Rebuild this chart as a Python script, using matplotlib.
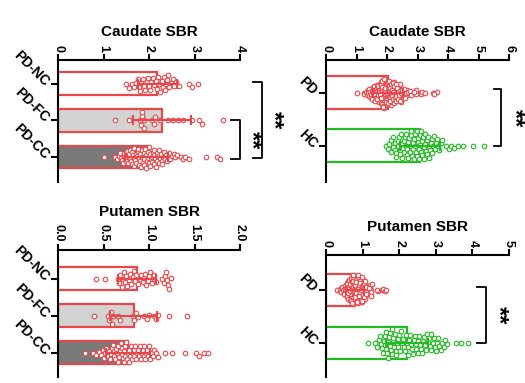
import matplotlib
matplotlib.use("Agg")
import matplotlib.pyplot as plt
import numpy as np

plt.rcParams['font.family'] = ['Liberation Sans', 'DejaVu Sans']
plt.rcParams['font.weight'] = 'bold'

RED = "#E8484B"
GREEN = "#22BB22"

# caudate SBR, individual subjects
caud_nc = [1.50, 1.55, 1.62, 1.68, 1.72, 1.75, 1.78, 1.80, 1.83, 1.86, 1.90, 1.92, 1.95, 1.98,
           2.00, 2.03, 2.05, 2.08, 2.12, 2.15, 2.18, 2.20, 2.22, 2.25, 2.28, 2.30, 2.32, 2.35,
           2.38, 2.40, 2.42, 2.45, 2.48, 2.52, 2.55, 2.60, 2.65, 2.88, 2.95, 3.08]
caud_fc = [1.25, 1.56, 1.80, 1.82, 1.84, 1.85, 1.88, 1.90, 2.06, 2.10, 2.13, 2.24, 2.42, 2.53,
           2.64, 2.75, 2.94, 3.10, 3.16, 3.63]
caud_cc = [1.01, 1.25, 1.30, 1.33, 1.36, 1.38, 1.40, 1.42, 1.44, 1.46, 1.48, 1.50, 1.51, 1.53,
           1.55, 1.56, 1.58, 1.59, 1.60, 1.62, 1.63, 1.64, 1.66, 1.67, 1.68, 1.70, 1.71, 1.72,
           1.74, 1.75, 1.76, 1.78, 1.79, 1.80, 1.81, 1.83, 1.84, 1.85, 1.87, 1.88, 1.89, 1.90,
           1.92, 1.93, 1.94, 1.95, 1.97, 1.98, 1.99, 2.00, 2.02, 2.03, 2.04, 2.06, 2.07, 2.08,
           2.10, 2.11, 2.12, 2.14, 2.15, 2.17, 2.18, 2.20, 2.21, 2.23, 2.24, 2.26, 2.28, 2.29,
           2.31, 2.33, 2.35, 2.37, 2.39, 2.41, 2.43, 2.46, 2.50, 2.54, 2.58, 2.62, 2.70, 2.75,
           2.80, 2.88, 3.25, 3.50, 3.55]
caud_hc = [1.96, 2.03, 2.08, 2.12, 2.12, 2.18, 2.21, 2.25, 2.27, 2.30, 2.31, 2.35, 2.37, 2.40,
           2.41, 2.44, 2.46, 2.48, 2.50, 2.52, 2.55, 2.56, 2.58, 2.61, 2.63, 2.64, 2.67, 2.69,
           2.70, 2.72, 2.75, 2.77, 2.78, 2.80, 2.82, 2.85, 2.86, 2.88, 2.90, 2.91, 2.93, 2.95,
           2.97, 2.99, 3.00, 3.02, 3.04, 3.05, 3.07, 3.09, 3.11, 3.12, 3.14, 3.16, 3.18, 3.20,
           3.21, 3.23, 3.25, 3.27, 3.30, 3.32, 3.34, 3.37, 3.39, 3.41, 3.44, 3.46, 3.49, 3.52,
           3.55, 3.58, 3.61, 3.65, 3.68, 3.72, 3.76, 3.80, 3.92, 4.02, 4.10, 4.21, 4.33, 4.49,
           4.82, 5.18]

# putamen SBR, individual subjects
put_nc = [0.42, 0.52, 0.66, 0.67, 0.68, 0.70, 0.71, 0.72, 0.74, 0.75, 0.76, 0.78, 0.79, 0.80,
          0.82, 0.83, 0.85, 0.86, 0.88, 0.90, 0.91, 0.93, 0.95, 0.96, 0.97, 0.99, 1.00, 1.01,
          1.03, 1.05, 1.06, 1.08, 1.14, 1.16, 1.18, 1.19, 1.20, 1.21, 1.22, 1.24]
put_fc = [0.39, 0.55, 0.56, 0.58, 0.59, 0.60, 0.66, 0.68, 0.82, 0.84, 0.86, 0.88, 0.95, 0.98,
          1.00, 1.05, 1.08, 1.10, 1.22, 1.42]
put_cc = [0.30, 0.38, 0.42, 0.45, 0.47, 0.49, 0.50, 0.52, 0.53, 0.54, 0.56, 0.57, 0.58, 0.59,
          0.60, 0.61, 0.62, 0.63, 0.64, 0.65, 0.66, 0.66, 0.67, 0.68, 0.69, 0.70, 0.70, 0.71,
          0.72, 0.73, 0.74, 0.74, 0.75, 0.76, 0.77, 0.78, 0.78, 0.79, 0.80, 0.81, 0.82, 0.83,
          0.84, 0.85, 0.86, 0.87, 0.88, 0.89, 0.90, 0.91, 0.92, 0.93, 0.94, 0.95, 0.96, 0.97,
          0.98, 0.99, 1.00, 1.01, 1.03, 1.04, 1.06, 1.08, 1.10, 1.18, 1.25, 1.40, 1.52, 1.55,
          1.60, 1.65]
put_hc = [1.16, 1.35, 1.40, 1.44, 1.48, 1.50, 1.53, 1.55, 1.58, 1.60, 1.62, 1.63, 1.65, 1.67,
          1.68, 1.70, 1.72, 1.74, 1.75, 1.77, 1.79, 1.80, 1.82, 1.84, 1.86, 1.88, 1.90, 1.92,
          1.94, 1.96, 1.98, 2.00, 2.02, 2.05, 2.07, 2.10, 2.12, 2.15, 2.18, 2.20, 2.23, 2.25,
          2.28, 2.30, 2.33, 2.35, 2.38, 2.40, 2.42, 2.45, 2.47, 2.50, 2.52, 2.55, 2.57, 2.60,
          2.62, 2.65, 2.67, 2.70, 2.72, 2.75, 2.78, 2.80, 2.83, 2.86, 2.88, 2.91, 2.94, 2.97,
          3.00, 3.03, 3.06, 3.10, 3.14, 3.18, 3.22, 3.26, 3.30, 3.55, 3.70, 3.88]

# group means and SD
sub_labels = ["PD-NC", "PD-FC", "PD-CC"]
caud_sub_mean = [2.18, 2.29, 1.95]
caud_sub_sd = [0.43, 0.64, 0.47]
put_sub_mean = [0.87, 0.83, 0.77]
put_sub_sd = [0.21, 0.26, 0.24]

grp_labels = ["PD", "HC"]
caud_grp_mean = [2.03, 3.07]
caud_grp_sd = [0.48, 0.66]
put_grp_mean = [0.79, 2.22]
put_grp_sd = [0.25, 0.57]

W, H = 525, 383
fig = plt.figure(figsize=(W / 100, H / 100), dpi=100)


def swarm(vals, xpx, d):
    # simple beeswarm, offsets in pixels
    xs = np.asarray(vals) * xpx
    placed = []
    offs = np.zeros(len(xs))
    for i in np.argsort(xs):
        x = xs[i]
        near = [(px, py) for px, py in placed if abs(px - x) < d]
        cands = [0.0]
        for px, py in near:
            dy = np.sqrt(d * d - (px - x) ** 2)
            cands += [py + dy, py - dy]
        cands = sorted(cands, key=abs)
        for c in cands:
            if all((px - x) ** 2 + (py - c) ** 2 >= d * d - 1e-6 for px, py in near):
                offs[i] = c
                placed.append((x, c))
                break
    return offs


def panel(rect, title, xmax, xticks, ticklabels, ylim, labels, groups, means, sds,
          colors, fills):
    ax = fig.add_axes(rect)
    ax.set_xlim(0, xmax)
    ax.set_ylim(ylim)
    xpx = rect[2] * W / xmax
    ypx = rect[3] * H / (ylim[0] - ylim[1])
    for i, (vals, m, s, c, f) in enumerate(zip(groups, means, sds, colors, fills)):
        ax.barh(i, m, height=0.62, color=f, edgecolor=c, linewidth=1.6, zorder=1)
        offs = swarm(vals, xpx, 4.4) / ypx
        lim = 0.29
        if np.abs(offs).max() > lim:
            offs = offs * lim / np.abs(offs).max()
        ax.plot(vals, i + offs, "o", ms=3.3, mfc="white", mec=c, mew=0.8,
                linestyle="none", zorder=2)
        ax.errorbar(m, i, xerr=s, fmt="none", ecolor=c, elinewidth=1.5,
                    capsize=3.5, capthick=1.5, zorder=3)
    ax.spines["right"].set_visible(False)
    ax.spines["bottom"].set_visible(False)
    ax.spines["top"].set_linewidth(1.5)
    ax.spines["left"].set_linewidth(1.5)
    ax.xaxis.tick_top()
    ax.set_xticks(xticks)
    ax.set_xticklabels(ticklabels, rotation=-90, fontsize=9, fontweight="bold")
    ax.set_yticks(range(len(labels)))
    ax.set_yticklabels(labels, rotation=-45, ha="right", va="center",
                       rotation_mode="anchor", fontsize=10, fontweight="bold")
    ax.tick_params(width=1.5, length=4, pad=2)
    ax.tick_params(axis="y", length=5, pad=3)
    ax.set_title(title, fontsize=11, fontweight="bold", pad=6)
    return ax


def bracket(ax, x, x_arm, y0, y1, sx, sy):
    ax.plot([x_arm, x, x, x_arm], [y0, y0, y1, y1], color="black", lw=1.3,
            clip_on=False)
    ax.text(sx, sy, "**", rotation=-90, ha="center", va="center", fontsize=17,
            fontweight="bold", clip_on=False)


sub_colors = [RED, RED, RED]
sub_fills = ["white", "#D3D3D3", "#7A7A7A"]
grp_colors = [RED, GREEN]
grp_fills = ["white", "white"]

ax1 = panel([0.1105, 0.5248, 0.3467, 0.3185], "Caudate SBR", 4, [0, 1, 2, 3, 4],
            ["0", "1", "2", "3", "4"], (2.68, -0.65), sub_labels,
            [caud_nc, caud_fc, caud_cc], caud_sub_mean, caud_sub_sd, sub_colors, sub_fills)
bracket(ax1, 4.48, 4.29, -0.05, 2.02, 4.74, 0.98)
bracket(ax1, 4.0, 3.80, 1.0, 2.05, 4.24, 1.53)

ax2 = panel([0.621, 0.5248, 0.3486, 0.3185], "Caudate SBR", 6, range(7),
            [str(v) for v in range(7)], (1.68, -0.62), grp_labels,
            [caud_nc + caud_fc + caud_cc, caud_hc], caud_grp_mean, caud_grp_sd,
            grp_colors, grp_fills)
bracket(ax2, 5.74, 5.51, -0.07, 1.0, 6.18, 0.47)

ax3 = panel([0.1105, 0.0157, 0.3467, 0.3316], "Putamen SBR", 2.0, [0, 0.5, 1.0, 1.5, 2.0],
            ["0.0", "0.5", "1.0", "1.5", "2.0"], (2.65, -0.78), sub_labels,
            [put_nc, put_fc, put_cc], put_sub_mean, put_sub_sd, sub_colors, sub_fills)

ax4 = panel([0.621, 0.0157, 0.3486, 0.3185], "Putamen SBR", 5, range(6),
            [str(v) for v in range(6)], (1.64, -0.66), grp_labels,
            [put_nc + put_fc + put_cc, put_hc], put_grp_mean, put_grp_sd,
            grp_colors, grp_fills)
bracket(ax4, 4.37, 4.13, -0.06, 1.0, 4.70, 0.47)

fig.savefig("out.png", dpi=100)
